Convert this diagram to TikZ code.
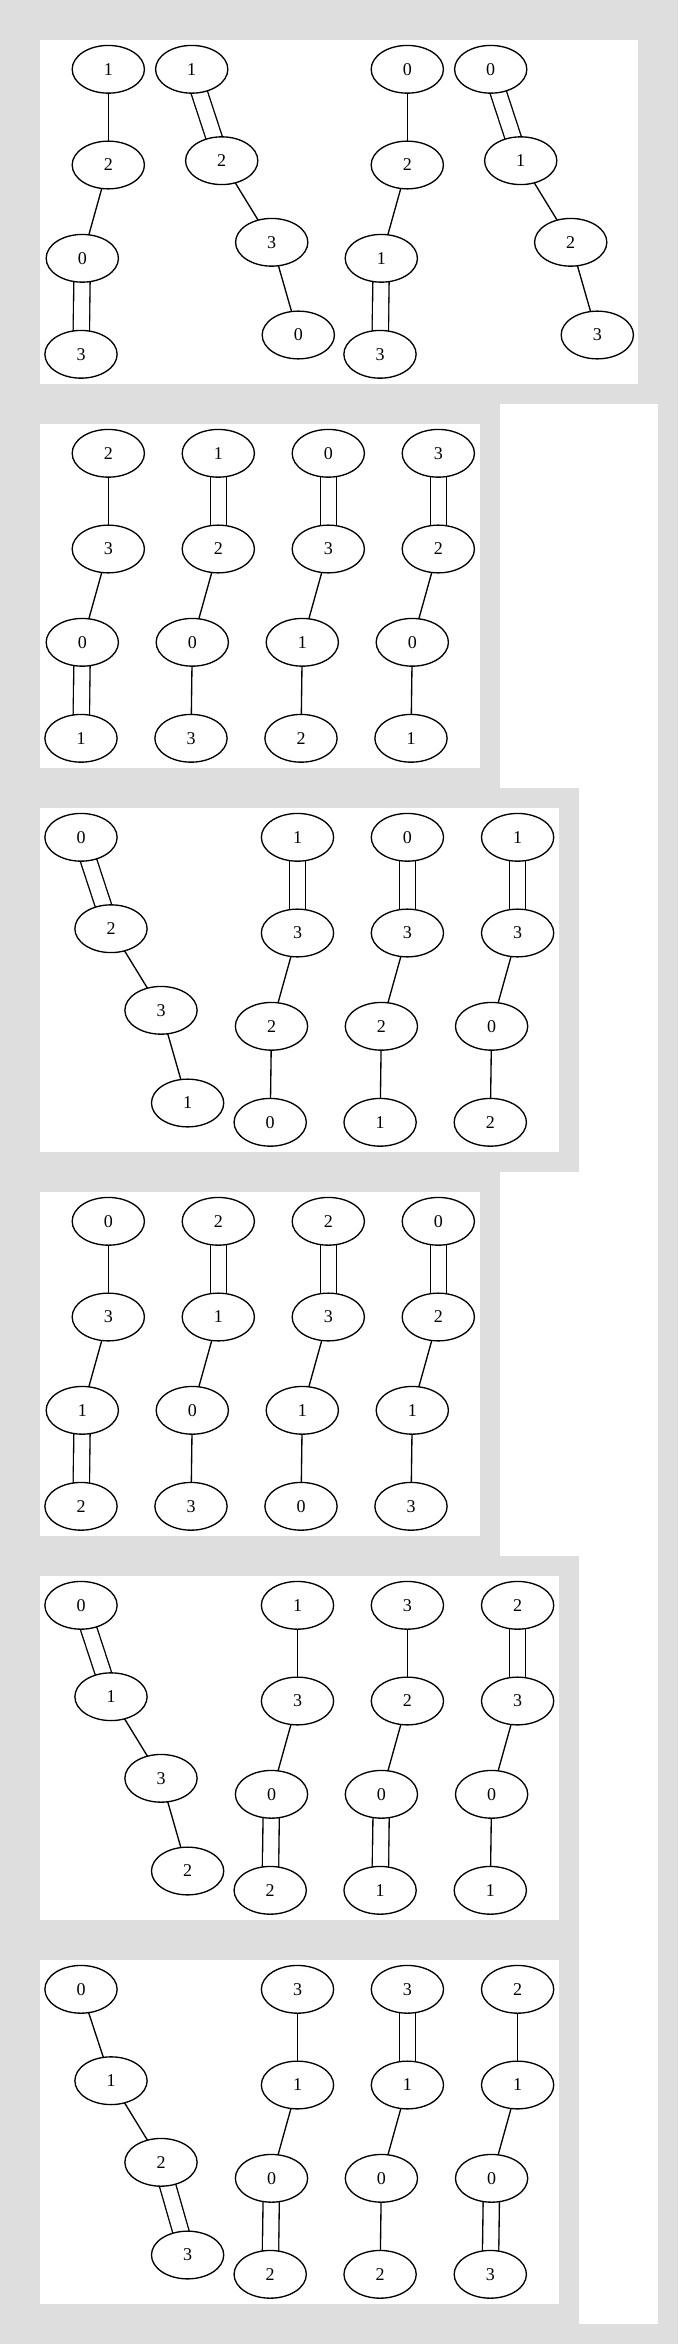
\documentclass[tikz,border=0pt]{standalone}
\usepackage{fontspec}
\setmainfont{Liberation Serif}
\usetikzlibrary{shapes.geometric}
\pgfdeclarelayer{bglayer}
\pgfdeclarelayer{edgelayer}
\pgfsetlayers{bglayer,edgelayer,main}
\definecolor{clgray}{RGB}{222,222,222}
\tikzset{
  vx/.style={ellipse, draw, line width=1pt, fill=white, inner sep=0pt,
    minimum width=54.2pt, minimum height=35.8pt,
    font=\fontsize{13.5pt}{16pt}\selectfont},
  sgl/.style={line width=1pt},
  dbl/.style={line width=1pt, double=white, double distance=11.2pt},
  panel/.style={fill=white, draw=none},
  graybox/.style={fill=clgray, draw=none}
}
% straight column: #1 name, #2 x of bottom node, #3 panel top, #4-#7 labels
\newcommand\colS[7]{%
  \node[vx] (#1-1) at (#2+27.3,#3+29.3) {#4};
  \node[vx] (#1-2) at (#2+27.3,#3+125) {#5};
  \node[vx] (#1-3) at (#2+1.3,#3+218.3) {#6};
  \node[vx] (#1-4) at (#2,#3+314.3) {#7};
}
% diagonal column: #1 name, #2 x of top node, #3 panel top, #4-#7 labels
\newcommand\colD[7]{%
  \node[vx] (#1-1) at (#2,#3+29.3) {#4};
  \node[vx] (#1-2) at (#2+30,#3+120.7) {#5};
  \node[vx] (#1-3) at (#2+80,#3+202.3) {#6};
  \node[vx] (#1-4) at (#2+106.6,#3+295) {#7};
}
% edges of a column
\newcommand\chainE[4]{%
  \begin{pgfonlayer}{edgelayer}
    \draw[#2] (#1-1.center) -- (#1-2.center);
    \draw[#3] (#1-2.center) -- (#1-3.center);
    \draw[#4] (#1-3.center) -- (#1-4.center);
  \end{pgfonlayer}
}
\begin{document}
\begin{tikzpicture}[x=0.75pt, y=-0.75pt]
  \useasboundingbox (0,0) rectangle (678,2344);
  \begin{pgfonlayer}{bglayer}
    \fill[clgray] (0,0) rectangle (678,2344);
    \fill[panel] (500,404) rectangle (658,2324);
    \fill[graybox] (20,788) rectangle (579,1172);
    \fill[graybox] (20,1556) rectangle (579,2324);
    \fill[panel] (40,40) rectangle (638,384);
    \fill[panel] (40,424) rectangle (480,768);
    \fill[panel] (40,808) rectangle (559,1152);
    \fill[panel] (40,1192) rectangle (480,1536);
    \fill[panel] (40,1576) rectangle (559,1920);
    \fill[panel] (40,1960) rectangle (559,2304);
  \end{pgfonlayer}

  % panel 1
  \colS{a1}{81}{40}{1}{2}{0}{3}      \chainE{a1}{sgl}{sgl}{dbl}
  \colD{b1}{191.7}{40}{1}{2}{3}{0}   \chainE{b1}{dbl}{sgl}{sgl}
  \colS{c1}{380}{40}{0}{2}{1}{3}     \chainE{c1}{sgl}{sgl}{dbl}
  \colD{d1}{490.7}{40}{0}{1}{2}{3}   \chainE{d1}{dbl}{sgl}{sgl}

  % panel 2
  \colS{a2}{81}{424}{2}{3}{0}{1}     \chainE{a2}{sgl}{sgl}{dbl}
  \colS{b2}{191}{424}{1}{2}{0}{3}    \chainE{b2}{dbl}{sgl}{sgl}
  \colS{c2}{301}{424}{0}{3}{1}{2}    \chainE{c2}{dbl}{sgl}{sgl}
  \colS{d2}{411}{424}{3}{2}{0}{1}    \chainE{d2}{dbl}{sgl}{sgl}

  % panel 3
  \colD{a3}{81}{808}{0}{2}{3}{1}     \chainE{a3}{dbl}{sgl}{sgl}
  \colS{b3}{270.2}{808}{1}{3}{2}{0}  \chainE{b3}{dbl}{sgl}{sgl}
  \colS{c3}{380.1}{808}{0}{3}{2}{1}  \chainE{c3}{dbl}{sgl}{sgl}
  \colS{d3}{490.3}{808}{1}{3}{0}{2}  \chainE{d3}{dbl}{sgl}{sgl}

  % panel 4
  \colS{a4}{81}{1192}{0}{3}{1}{2}    \chainE{a4}{sgl}{sgl}{dbl}
  \colS{b4}{191}{1192}{2}{1}{0}{3}   \chainE{b4}{dbl}{sgl}{sgl}
  \colS{c4}{301}{1192}{2}{3}{1}{0}   \chainE{c4}{dbl}{sgl}{sgl}
  \colS{d4}{411}{1192}{0}{2}{1}{3}   \chainE{d4}{dbl}{sgl}{sgl}

  % panel 5
  \colD{a5}{81}{1576}{0}{1}{3}{2}    \chainE{a5}{dbl}{sgl}{sgl}
  \colS{b5}{270.2}{1576}{1}{3}{0}{2} \chainE{b5}{sgl}{sgl}{dbl}
  \colS{c5}{380.1}{1576}{3}{2}{0}{1} \chainE{c5}{sgl}{sgl}{dbl}
  \colS{d5}{490.3}{1576}{2}{3}{0}{1} \chainE{d5}{dbl}{sgl}{sgl}

  % panel 6
  \colD{a6}{81}{1960}{0}{1}{2}{3}    \chainE{a6}{sgl}{sgl}{dbl}
  \colS{b6}{270.2}{1960}{3}{1}{0}{2} \chainE{b6}{sgl}{sgl}{dbl}
  \colS{c6}{380.1}{1960}{3}{1}{0}{2} \chainE{c6}{dbl}{sgl}{sgl}
  \colS{d6}{490.3}{1960}{2}{1}{0}{3} \chainE{d6}{sgl}{sgl}{dbl}
\end{tikzpicture}
\end{document}
